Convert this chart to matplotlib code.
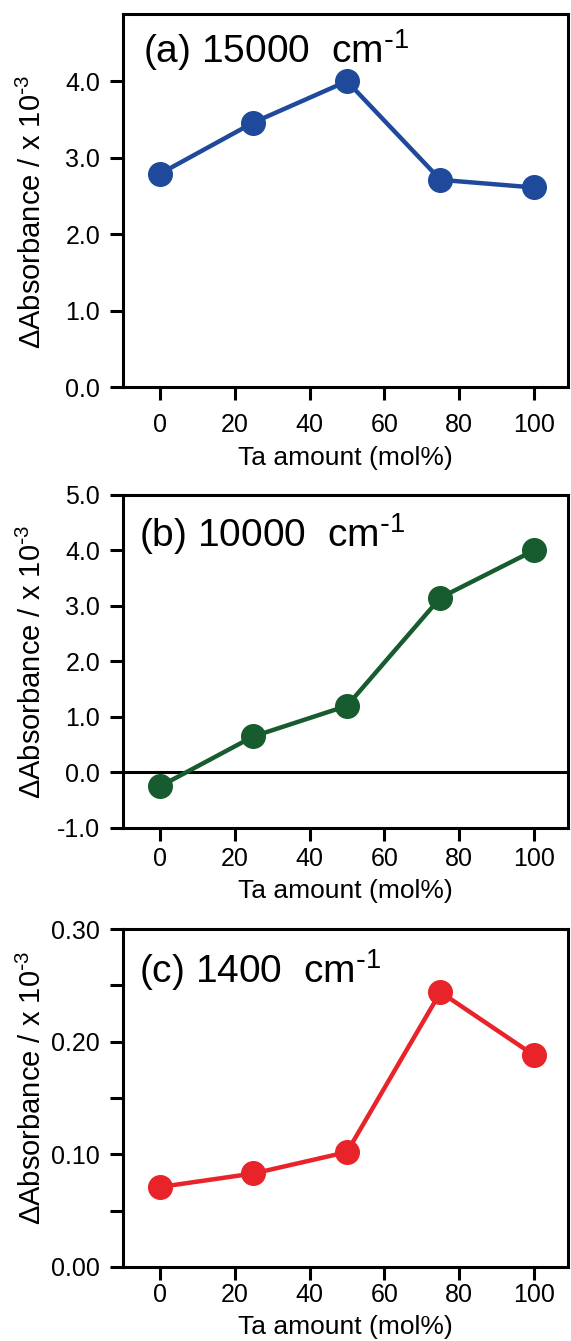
import matplotlib
matplotlib.use("Agg")
import matplotlib.pyplot as plt
from matplotlib.ticker import MultipleLocator, FormatStrFormatter

plt.rcParams['font.family'] = ['Liberation Sans', 'DejaVu Sans']
plt.rcParams['mathtext.default'] = 'regular'

# data
ta_amount = [0, 25, 50, 75, 100]
abs_15000 = [2.79, 3.46, 4.00, 2.71, 2.61]
abs_10000 = [-0.25, 0.65, 1.20, 3.15, 4.00]
abs_1400 = [0.071, 0.083, 0.102, 0.244, 0.188]

x_ticks = [0, 20, 40, 60, 80, 100]
labels = [r"(a) 15000  cm$^{\text{-}1}$", r"(b) 10000  cm$^{\text{-}1}$", r"(c) 1400  cm$^{\text{-}1}$"]
colors = ["#1f4a9c", "#175c2e", "#e8232a"]

fig = plt.figure(figsize=(5.71, 13.41), dpi=100)

# axes boxes in figure fraction: left, bottom, width, height
boxes = [
    [0.2154, 0.7114, 0.7793, 0.2782],
    [0.2154, 0.3826, 0.7793, 0.2483],
    [0.2154, 0.0552, 0.7793, 0.2520],
]

series = [abs_15000, abs_10000, abs_1400]
ylims = [(0, 4.88), (-1.0, 5.0), (0, 0.30)]
yfmt = ["%.1f", "%.1f", "%.2f"]
text_pos = [(0.045, 0.869), (0.035, 0.844), (0.035, 0.84)]
ylabel_y = [0.47, 0.50, 0.53]
xtick_pad = [9, 4, 2]
xlabel_pad = [7, 6, 6]

for i in range(3):
    ax = fig.add_axes(boxes[i])
    ax.plot(ta_amount, series[i], color=colors[i], marker='o', markersize=17,
            linewidth=3.2, clip_on=False, zorder=3)
    ax.set_xlim(-9.9, 109.1)
    ax.set_ylim(*ylims[i])
    ax.set_xticks(x_ticks)
    if i == 0:
        ax.set_yticks([0, 1, 2, 3, 4])
    elif i == 1:
        ax.set_yticks([-1, 0, 1, 2, 3, 4, 5])
        ax.axhline(0, color='black', linewidth=2.2, zorder=2)
    else:
        ax.set_yticks([0, 0.1, 0.2, 0.3])
        ax.yaxis.set_minor_locator(MultipleLocator(0.05))
    ax.yaxis.set_major_formatter(FormatStrFormatter(yfmt[i]))
    for sp in ax.spines.values():
        sp.set_linewidth(2.2)
    ax.tick_params(axis='both', which='both', direction='out', width=2.2,
                   labelsize=18, top=False, right=False)
    ax.tick_params(axis='both', which='major', length=9.5)
    ax.tick_params(axis='x', which='major', pad=xtick_pad[i])
    ax.tick_params(axis='y', which='major', pad=7)
    ax.tick_params(axis='y', which='minor', length=9.5)
    ax.set_xlabel("Ta amount (mol%)", fontsize=19, labelpad=xlabel_pad[i])
    ax.set_ylabel(r"ΔAbsorbance / x 10$^{\text{-}3}$", fontsize=21)
    ax.yaxis.set_label_coords(-0.17, ylabel_y[i])
    ax.text(text_pos[i][0], text_pos[i][1], labels[i], transform=ax.transAxes,
            fontsize=28, va='baseline', ha='left')

fig.savefig("out.png", dpi=100)
